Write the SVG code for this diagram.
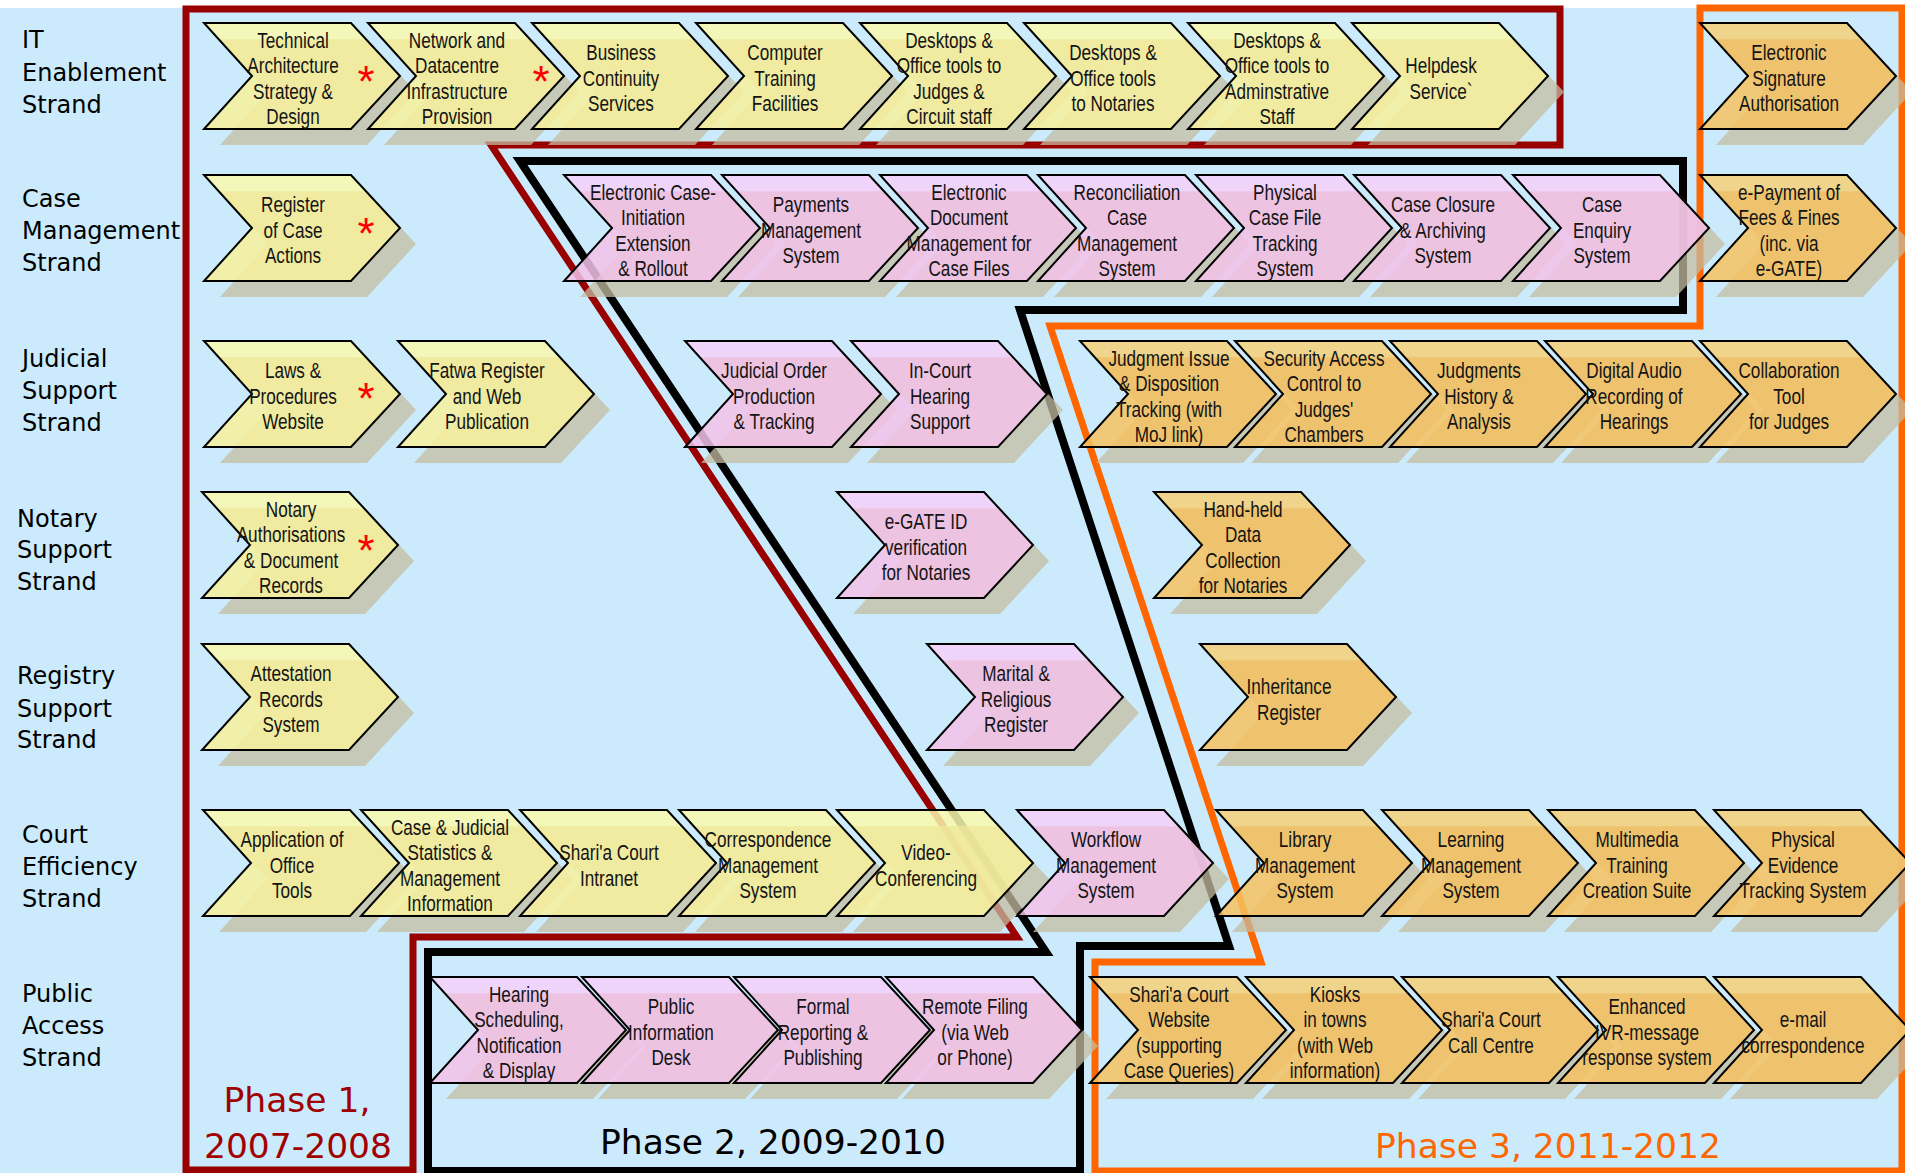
<svg xmlns="http://www.w3.org/2000/svg" xmlns:xlink="http://www.w3.org/1999/xlink" width="1905" height="1173" viewBox="0 0 1905 1173">
  <style>
    .strand{font-family:"DejaVu Sans",Verdana,sans-serif;font-size:24px;fill:#000}
    .phase{font-family:"DejaVu Sans",Verdana,sans-serif;font-size:34.5px}
    .sh{fill:#c4bca1;fill-opacity:.75}
    .chev{stroke:#000;stroke-width:2;stroke-linejoin:miter;fill-opacity:.85}
    .y{fill:url(#gYellow)}
    .p{fill:url(#gPink)}
    .o{fill:url(#gOrange)}
    .t{font-family:"Liberation Sans",Arial,sans-serif;font-size:22px;fill:#141414;text-anchor:middle}
    .ast{font-family:"Liberation Sans",Arial,sans-serif;font-size:44px;fill:#ff0000;text-anchor:middle}
    .bound{fill:none;stroke-linejoin:miter}
  </style>
  <defs>
    <path id="chev" d="M0 0 H147 L196 53 L147 106 H0 L48 53 Z"/>
    <linearGradient id="gYellow" x1="0" y1="0" x2="0" y2="1">
      <stop offset="0" stop-color="#faf9ad"/><stop offset="0.15" stop-color="#faf9ad"/>
      <stop offset="0.16" stop-color="#f7f19c"/><stop offset="1" stop-color="#f7f19c"/>
    </linearGradient>
    <linearGradient id="gPink" x1="0" y1="0" x2="0" y2="1">
      <stop offset="0" stop-color="#f6d0fa"/><stop offset="0.15" stop-color="#f6d0fa"/>
      <stop offset="0.16" stop-color="#f4c2e9"/><stop offset="1" stop-color="#f4c2e9"/>
    </linearGradient>
    <linearGradient id="gOrange" x1="0" y1="0" x2="0" y2="1">
      <stop offset="0" stop-color="#f6d078"/><stop offset="0.15" stop-color="#f6d078"/>
      <stop offset="0.16" stop-color="#f6c261"/><stop offset="1" stop-color="#f6c261"/>
    </linearGradient>
  </defs>

  <!-- background -->
  <rect x="0" y="0" width="1905" height="1173" fill="#ffffff"/>
  <rect x="0" y="8" width="1905" height="1165" fill="#cbebfc"/>

  <!-- phase boundaries -->
  <g id="phase-boundaries">
    <path class="bound" stroke="#990000" stroke-width="7" d="M186 1170 V9 H1560 V145 H491 L1017 937 H413 V1170 Z"/>
    <path class="bound" stroke="#000000" stroke-width="8" d="M428 1171 V952 H1046 L520 161 H1683 V310 H1020 L1229 946 H1080 V1171 Z"/>
    <path class="bound" stroke="#ff6600" stroke-width="7" d="M1095 1171 V962 H1261 L1050 326 H1700 V8 H1902 V1171 Z"/>
  </g>

  <!-- drop shadows (offset 16,16) -->
  <g id="shadows">
    <use href="#chev" class="sh" x="220" y="39"/><use href="#chev" class="sh" x="384" y="39"/><use href="#chev" class="sh" x="548" y="39"/><use href="#chev" class="sh" x="712" y="39"/><use href="#chev" class="sh" x="876" y="39"/><use href="#chev" class="sh" x="1040" y="39"/><use href="#chev" class="sh" x="1204" y="39"/><use href="#chev" class="sh" x="1368" y="39"/><use href="#chev" class="sh" x="1716" y="39"/>
    <use href="#chev" class="sh" x="220" y="191"/><use href="#chev" class="sh" x="580" y="191"/><use href="#chev" class="sh" x="738" y="191"/><use href="#chev" class="sh" x="896" y="191"/><use href="#chev" class="sh" x="1054" y="191"/><use href="#chev" class="sh" x="1212" y="191"/><use href="#chev" class="sh" x="1370" y="191"/><use href="#chev" class="sh" x="1529" y="191"/><use href="#chev" class="sh" x="1716" y="191"/>
    <use href="#chev" class="sh" x="220" y="357"/><use href="#chev" class="sh" x="414" y="357"/><use href="#chev" class="sh" x="701" y="357"/><use href="#chev" class="sh" x="867" y="357"/><use href="#chev" class="sh" x="1096" y="357"/><use href="#chev" class="sh" x="1251" y="357"/><use href="#chev" class="sh" x="1406" y="357"/><use href="#chev" class="sh" x="1561" y="357"/><use href="#chev" class="sh" x="1716" y="357"/>
    <use href="#chev" class="sh" x="218" y="508"/><use href="#chev" class="sh" x="853" y="508"/><use href="#chev" class="sh" x="1170" y="508"/>
    <use href="#chev" class="sh" x="218" y="660"/><use href="#chev" class="sh" x="943" y="660"/><use href="#chev" class="sh" x="1216" y="660"/>
    <use href="#chev" class="sh" x="219" y="826"/><use href="#chev" class="sh" x="377" y="826"/><use href="#chev" class="sh" x="536" y="826"/><use href="#chev" class="sh" x="695" y="826"/><use href="#chev" class="sh" x="853" y="826"/><use href="#chev" class="sh" x="1033" y="826"/><use href="#chev" class="sh" x="1232" y="826"/><use href="#chev" class="sh" x="1398" y="826"/><use href="#chev" class="sh" x="1564" y="826"/><use href="#chev" class="sh" x="1730" y="826"/>
    <use href="#chev" class="sh" x="446" y="993"/><use href="#chev" class="sh" x="598" y="993"/><use href="#chev" class="sh" x="750" y="993"/><use href="#chev" class="sh" x="902" y="993"/><use href="#chev" class="sh" x="1106" y="993"/><use href="#chev" class="sh" x="1262" y="993"/><use href="#chev" class="sh" x="1418" y="993"/><use href="#chev" class="sh" x="1574" y="993"/><use href="#chev" class="sh" x="1730" y="993"/>
  </g>

  <!-- IT Enablement strand -->
  <g id="it-technical-architecture" transform="translate(204 23)"><use href="#chev" class="chev y"/>
    <text class="t" transform="translate(89 0) scale(0.78 1)"><tspan x="0" y="24.75">Technical</tspan><tspan x="0" y="50.25">Architecture</tspan><tspan x="0" y="75.75">Strategy &amp;</tspan><tspan x="0" y="101.25">Design</tspan></text>
    <text class="ast" x="162" y="74">*</text></g>
  <g id="it-network-datacentre" transform="translate(368 23)"><use href="#chev" class="chev y"/>
    <text class="t" transform="translate(89 0) scale(0.78 1)"><tspan x="0" y="24.75">Network and</tspan><tspan x="0" y="50.25">Datacentre</tspan><tspan x="0" y="75.75">Infrastructure</tspan><tspan x="0" y="101.25">Provision</tspan></text>
    <text class="ast" x="173" y="74">*</text></g>
  <g id="it-business-continuity" transform="translate(532 23)"><use href="#chev" class="chev y"/>
    <text class="t" transform="translate(89 0) scale(0.78 1)"><tspan x="0" y="37.5">Business</tspan><tspan x="0" y="63">Continuity</tspan><tspan x="0" y="88.5">Services</tspan></text></g>
  <g id="it-computer-training" transform="translate(696 23)"><use href="#chev" class="chev y"/>
    <text class="t" transform="translate(89 0) scale(0.78 1)"><tspan x="0" y="37.5">Computer</tspan><tspan x="0" y="63">Training</tspan><tspan x="0" y="88.5">Facilities</tspan></text></g>
  <g id="it-desktops-judges" transform="translate(860 23)"><use href="#chev" class="chev y"/>
    <text class="t" transform="translate(89 0) scale(0.78 1)"><tspan x="0" y="24.75">Desktops &amp;</tspan><tspan x="0" y="50.25">Office tools to</tspan><tspan x="0" y="75.75">Judges &amp;</tspan><tspan x="0" y="101.25">Circuit staff</tspan></text></g>
  <g id="it-desktops-notaries" transform="translate(1024 23)"><use href="#chev" class="chev y"/>
    <text class="t" transform="translate(89 0) scale(0.78 1)"><tspan x="0" y="37.5">Desktops &amp;</tspan><tspan x="0" y="63">Office tools</tspan><tspan x="0" y="88.5">to Notaries</tspan></text></g>
  <g id="it-desktops-admin" transform="translate(1188 23)"><use href="#chev" class="chev y"/>
    <text class="t" transform="translate(89 0) scale(0.78 1)"><tspan x="0" y="24.75">Desktops &amp;</tspan><tspan x="0" y="50.25">Office tools to</tspan><tspan x="0" y="75.75">Adminstrative</tspan><tspan x="0" y="101.25">Staff</tspan></text></g>
  <g id="it-helpdesk" transform="translate(1352 23)"><use href="#chev" class="chev y"/>
    <text class="t" transform="translate(89 0) scale(0.78 1)"><tspan x="0" y="50.25">Helpdesk</tspan><tspan x="0" y="75.75">Service`</tspan></text></g>
  <g id="it-electronic-signature" transform="translate(1700 23)"><use href="#chev" class="chev o"/>
    <text class="t" transform="translate(89 0) scale(0.78 1)"><tspan x="0" y="37.5">Electronic</tspan><tspan x="0" y="63">Signature</tspan><tspan x="0" y="88.5">Authorisation</tspan></text></g>

  <!-- Case Management strand -->
  <g id="cm-register-case-actions" transform="translate(204 175)"><use href="#chev" class="chev y"/>
    <text class="t" transform="translate(89 0) scale(0.78 1)"><tspan x="0" y="37.5">Register</tspan><tspan x="0" y="63">of Case</tspan><tspan x="0" y="88.5">Actions</tspan></text>
    <text class="ast" x="162" y="74">*</text></g>
  <g id="cm-electronic-case-initiation" transform="translate(564 175)"><use href="#chev" class="chev p"/>
    <text class="t" transform="translate(89 0) scale(0.78 1)"><tspan x="0" y="24.75">Electronic Case-</tspan><tspan x="0" y="50.25">Initiation</tspan><tspan x="0" y="75.75">Extension</tspan><tspan x="0" y="101.25">&amp; Rollout</tspan></text></g>
  <g id="cm-payments" transform="translate(722 175)"><use href="#chev" class="chev p"/>
    <text class="t" transform="translate(89 0) scale(0.78 1)"><tspan x="0" y="37.5">Payments</tspan><tspan x="0" y="63">Management</tspan><tspan x="0" y="88.5">System</tspan></text></g>
  <g id="cm-electronic-document" transform="translate(880 175)"><use href="#chev" class="chev p"/>
    <text class="t" transform="translate(89 0) scale(0.78 1)"><tspan x="0" y="24.75">Electronic</tspan><tspan x="0" y="50.25">Document</tspan><tspan x="0" y="75.75">Management for</tspan><tspan x="0" y="101.25">Case Files</tspan></text></g>
  <g id="cm-reconciliation" transform="translate(1038 175)"><use href="#chev" class="chev p"/>
    <text class="t" transform="translate(89 0) scale(0.78 1)"><tspan x="0" y="24.75">Reconciliation</tspan><tspan x="0" y="50.25">Case</tspan><tspan x="0" y="75.75">Management</tspan><tspan x="0" y="101.25">System</tspan></text></g>
  <g id="cm-physical-case-file" transform="translate(1196 175)"><use href="#chev" class="chev p"/>
    <text class="t" transform="translate(89 0) scale(0.78 1)"><tspan x="0" y="24.75">Physical</tspan><tspan x="0" y="50.25">Case File</tspan><tspan x="0" y="75.75">Tracking</tspan><tspan x="0" y="101.25">System</tspan></text></g>
  <g id="cm-case-closure" transform="translate(1354 175)"><use href="#chev" class="chev p"/>
    <text class="t" transform="translate(89 0) scale(0.78 1)"><tspan x="0" y="37.5">Case Closure</tspan><tspan x="0" y="63">&amp; Archiving</tspan><tspan x="0" y="88.5">System</tspan></text></g>
  <g id="cm-case-enquiry" transform="translate(1513 175)"><use href="#chev" class="chev p"/>
    <text class="t" transform="translate(89 0) scale(0.78 1)"><tspan x="0" y="37.5">Case</tspan><tspan x="0" y="63">Enquiry</tspan><tspan x="0" y="88.5">System</tspan></text></g>
  <g id="cm-e-payment" transform="translate(1700 175)"><use href="#chev" class="chev o"/>
    <text class="t" transform="translate(89 0) scale(0.78 1)"><tspan x="0" y="24.75">e-Payment of</tspan><tspan x="0" y="50.25">Fees &amp; Fines</tspan><tspan x="0" y="75.75">(inc. via</tspan><tspan x="0" y="101.25">e-GATE)</tspan></text></g>

  <!-- Judicial Support strand -->
  <g id="js-laws-procedures" transform="translate(204 341)"><use href="#chev" class="chev y"/>
    <text class="t" transform="translate(89 0) scale(0.78 1)"><tspan x="0" y="37.5">Laws &amp;</tspan><tspan x="0" y="63">Procedures</tspan><tspan x="0" y="88.5">Website</tspan></text>
    <text class="ast" x="162" y="73">*</text></g>
  <g id="js-fatwa-register" transform="translate(398 341)"><use href="#chev" class="chev y"/>
    <text class="t" transform="translate(89 0) scale(0.78 1)"><tspan x="0" y="37.5">Fatwa Register</tspan><tspan x="0" y="63">and Web</tspan><tspan x="0" y="88.5">Publication</tspan></text></g>
  <g id="js-judicial-order" transform="translate(685 341)"><use href="#chev" class="chev p"/>
    <text class="t" transform="translate(89 0) scale(0.78 1)"><tspan x="0" y="37.5">Judicial Order</tspan><tspan x="0" y="63">Production</tspan><tspan x="0" y="88.5">&amp; Tracking</tspan></text></g>
  <g id="js-in-court-hearing" transform="translate(851 341)"><use href="#chev" class="chev p"/>
    <text class="t" transform="translate(89 0) scale(0.78 1)"><tspan x="0" y="37.5">In-Court</tspan><tspan x="0" y="63">Hearing</tspan><tspan x="0" y="88.5">Support</tspan></text></g>
  <g id="js-judgment-issue" transform="translate(1080 341)"><use href="#chev" class="chev o"/>
    <text class="t" transform="translate(89 0) scale(0.78 1)"><tspan x="0" y="24.75">Judgment Issue</tspan><tspan x="0" y="50.25">&amp; Disposition</tspan><tspan x="0" y="75.75">Tracking (with</tspan><tspan x="0" y="101.25">MoJ link)</tspan></text></g>
  <g id="js-security-access" transform="translate(1235 341)"><use href="#chev" class="chev o"/>
    <text class="t" transform="translate(89 0) scale(0.78 1)"><tspan x="0" y="24.75">Security Access</tspan><tspan x="0" y="50.25">Control to</tspan><tspan x="0" y="75.75">Judges'</tspan><tspan x="0" y="101.25">Chambers</tspan></text></g>
  <g id="js-judgments-history" transform="translate(1390 341)"><use href="#chev" class="chev o"/>
    <text class="t" transform="translate(89 0) scale(0.78 1)"><tspan x="0" y="37.5">Judgments</tspan><tspan x="0" y="63">History &amp;</tspan><tspan x="0" y="88.5">Analysis</tspan></text></g>
  <g id="js-digital-audio" transform="translate(1545 341)"><use href="#chev" class="chev o"/>
    <text class="t" transform="translate(89 0) scale(0.78 1)"><tspan x="0" y="37.5">Digital Audio</tspan><tspan x="0" y="63">Recording of</tspan><tspan x="0" y="88.5">Hearings</tspan></text></g>
  <g id="js-collaboration-tool" transform="translate(1700 341)"><use href="#chev" class="chev o"/>
    <text class="t" transform="translate(89 0) scale(0.78 1)"><tspan x="0" y="37.5">Collaboration</tspan><tspan x="0" y="63">Tool</tspan><tspan x="0" y="88.5">for Judges</tspan></text></g>

  <!-- Notary Support strand -->
  <g id="ns-notary-authorisations" transform="translate(202 492)"><use href="#chev" class="chev y"/>
    <text class="t" transform="translate(89 0) scale(0.78 1)"><tspan x="0" y="24.75">Notary</tspan><tspan x="0" y="50.25">Authorisations</tspan><tspan x="0" y="75.75">&amp; Document</tspan><tspan x="0" y="101.25">Records</tspan></text>
    <text class="ast" x="164" y="74">*</text></g>
  <g id="ns-egate-id" transform="translate(837 492)"><use href="#chev" class="chev p"/>
    <text class="t" transform="translate(89 0) scale(0.78 1)"><tspan x="0" y="37.5">e-GATE ID</tspan><tspan x="0" y="63">verification</tspan><tspan x="0" y="88.5">for Notaries</tspan></text></g>
  <g id="ns-hand-held" transform="translate(1154 492)"><use href="#chev" class="chev o"/>
    <text class="t" transform="translate(89 0) scale(0.78 1)"><tspan x="0" y="24.75">Hand-held</tspan><tspan x="0" y="50.25">Data</tspan><tspan x="0" y="75.75">Collection</tspan><tspan x="0" y="101.25">for Notaries</tspan></text></g>

  <!-- Registry Support strand -->
  <g id="rs-attestation" transform="translate(202 644)"><use href="#chev" class="chev y"/>
    <text class="t" transform="translate(89 0) scale(0.78 1)"><tspan x="0" y="37.5">Attestation</tspan><tspan x="0" y="63">Records</tspan><tspan x="0" y="88.5">System</tspan></text></g>
  <g id="rs-marital-religious" transform="translate(927 644)"><use href="#chev" class="chev p"/>
    <text class="t" transform="translate(89 0) scale(0.78 1)"><tspan x="0" y="37.5">Marital &amp;</tspan><tspan x="0" y="63">Religious</tspan><tspan x="0" y="88.5">Register</tspan></text></g>
  <g id="rs-inheritance" transform="translate(1200 644)"><use href="#chev" class="chev o"/>
    <text class="t" transform="translate(89 0) scale(0.78 1)"><tspan x="0" y="50.25">Inheritance</tspan><tspan x="0" y="75.75">Register</tspan></text></g>

  <!-- Court Efficiency strand -->
  <g id="ce-office-tools" transform="translate(203 810)"><use href="#chev" class="chev y"/>
    <text class="t" transform="translate(89 0) scale(0.78 1)"><tspan x="0" y="37.5">Application of</tspan><tspan x="0" y="63">Office</tspan><tspan x="0" y="88.5">Tools</tspan></text></g>
  <g id="ce-statistics" transform="translate(361 810)"><use href="#chev" class="chev y"/>
    <text class="t" transform="translate(89 0) scale(0.78 1)"><tspan x="0" y="24.75">Case &amp; Judicial</tspan><tspan x="0" y="50.25">Statistics &amp;</tspan><tspan x="0" y="75.75">Management</tspan><tspan x="0" y="101.25">Information</tspan></text></g>
  <g id="ce-intranet" transform="translate(520 810)"><use href="#chev" class="chev y"/>
    <text class="t" transform="translate(89 0) scale(0.78 1)"><tspan x="0" y="50.25">Shari'a Court</tspan><tspan x="0" y="75.75">Intranet</tspan></text></g>
  <g id="ce-correspondence" transform="translate(679 810)"><use href="#chev" class="chev y"/>
    <text class="t" transform="translate(89 0) scale(0.78 1)"><tspan x="0" y="37.5">Correspondence</tspan><tspan x="0" y="63">Management</tspan><tspan x="0" y="88.5">System</tspan></text></g>
  <g id="ce-video-conferencing" transform="translate(837 810)"><use href="#chev" class="chev y"/>
    <text class="t" transform="translate(89 0) scale(0.78 1)"><tspan x="0" y="50.25">Video-</tspan><tspan x="0" y="75.75">Conferencing</tspan></text></g>
  <g id="ce-workflow" transform="translate(1017 810)"><use href="#chev" class="chev p"/>
    <text class="t" transform="translate(89 0) scale(0.78 1)"><tspan x="0" y="37.5">Workflow</tspan><tspan x="0" y="63">Management</tspan><tspan x="0" y="88.5">System</tspan></text></g>
  <g id="ce-library" transform="translate(1216 810)"><use href="#chev" class="chev o"/>
    <text class="t" transform="translate(89 0) scale(0.78 1)"><tspan x="0" y="37.5">Library</tspan><tspan x="0" y="63">Management</tspan><tspan x="0" y="88.5">System</tspan></text></g>
  <g id="ce-learning" transform="translate(1382 810)"><use href="#chev" class="chev o"/>
    <text class="t" transform="translate(89 0) scale(0.78 1)"><tspan x="0" y="37.5">Learning</tspan><tspan x="0" y="63">Management</tspan><tspan x="0" y="88.5">System</tspan></text></g>
  <g id="ce-multimedia" transform="translate(1548 810)"><use href="#chev" class="chev o"/>
    <text class="t" transform="translate(89 0) scale(0.78 1)"><tspan x="0" y="37.5">Multimedia</tspan><tspan x="0" y="63">Training</tspan><tspan x="0" y="88.5">Creation Suite</tspan></text></g>
  <g id="ce-physical-evidence" transform="translate(1714 810)"><use href="#chev" class="chev o"/>
    <text class="t" transform="translate(89 0) scale(0.78 1)"><tspan x="0" y="37.5">Physical</tspan><tspan x="0" y="63">Evidence</tspan><tspan x="0" y="88.5">Tracking System</tspan></text></g>

  <!-- Public Access strand -->
  <g id="pa-hearing-scheduling" transform="translate(430 977)"><use href="#chev" class="chev p"/>
    <text class="t" transform="translate(89 0) scale(0.78 1)"><tspan x="0" y="24.75">Hearing</tspan><tspan x="0" y="50.25">Scheduling,</tspan><tspan x="0" y="75.75">Notification</tspan><tspan x="0" y="101.25">&amp; Display</tspan></text></g>
  <g id="pa-information-desk" transform="translate(582 977)"><use href="#chev" class="chev p"/>
    <text class="t" transform="translate(89 0) scale(0.78 1)"><tspan x="0" y="37.5">Public</tspan><tspan x="0" y="63">Information</tspan><tspan x="0" y="88.5">Desk</tspan></text></g>
  <g id="pa-formal-reporting" transform="translate(734 977)"><use href="#chev" class="chev p"/>
    <text class="t" transform="translate(89 0) scale(0.78 1)"><tspan x="0" y="37.5">Formal</tspan><tspan x="0" y="63">Reporting &amp;</tspan><tspan x="0" y="88.5">Publishing</tspan></text></g>
  <g id="pa-remote-filing" transform="translate(886 977)"><use href="#chev" class="chev p"/>
    <text class="t" transform="translate(89 0) scale(0.78 1)"><tspan x="0" y="37.5">Remote Filing</tspan><tspan x="0" y="63">(via Web</tspan><tspan x="0" y="88.5">or Phone)</tspan></text></g>
  <g id="pa-court-website" transform="translate(1090 977)"><use href="#chev" class="chev o"/>
    <text class="t" transform="translate(89 0) scale(0.78 1)"><tspan x="0" y="24.75">Shari'a Court</tspan><tspan x="0" y="50.25">Website</tspan><tspan x="0" y="75.75">(supporting</tspan><tspan x="0" y="101.25">Case Queries)</tspan></text></g>
  <g id="pa-kiosks" transform="translate(1246 977)"><use href="#chev" class="chev o"/>
    <text class="t" transform="translate(89 0) scale(0.78 1)"><tspan x="0" y="24.75">Kiosks</tspan><tspan x="0" y="50.25">in towns</tspan><tspan x="0" y="75.75">(with Web</tspan><tspan x="0" y="101.25">information)</tspan></text></g>
  <g id="pa-call-centre" transform="translate(1402 977)"><use href="#chev" class="chev o"/>
    <text class="t" transform="translate(89 0) scale(0.78 1)"><tspan x="0" y="50.25">Shari'a Court</tspan><tspan x="0" y="75.75">Call Centre</tspan></text></g>
  <g id="pa-ivr" transform="translate(1558 977)"><use href="#chev" class="chev o"/>
    <text class="t" transform="translate(89 0) scale(0.78 1)"><tspan x="0" y="37.5">Enhanced</tspan><tspan x="0" y="63">IVR-message</tspan><tspan x="0" y="88.5">response system</tspan></text></g>
  <g id="pa-email" transform="translate(1714 977)"><use href="#chev" class="chev o"/>
    <text class="t" transform="translate(89 0) scale(0.78 1)"><tspan x="0" y="50.25">e-mail</tspan><tspan x="0" y="75.75">correspondence</tspan></text></g>

  <!-- strand labels -->
  <g id="strand-labels" class="strand">
    <text x="22" y="48">IT<tspan x="22" y="81">Enablement</tspan><tspan x="22" y="113">Strand</tspan></text>
    <text x="22" y="207">Case<tspan x="22" y="239">Management</tspan><tspan x="22" y="271">Strand</tspan></text>
    <text x="22" y="367">Judicial<tspan x="22" y="399">Support</tspan><tspan x="22" y="431">Strand</tspan></text>
    <text x="17" y="527">Notary<tspan x="17" y="558">Support</tspan><tspan x="17" y="590">Strand</tspan></text>
    <text x="17" y="684">Registry<tspan x="17" y="717">Support</tspan><tspan x="17" y="748">Strand</tspan></text>
    <text x="22" y="843">Court<tspan x="22" y="875">Efficiency</tspan><tspan x="22" y="907">Strand</tspan></text>
    <text x="22" y="1002">Public<tspan x="22" y="1034">Access</tspan><tspan x="22" y="1066">Strand</tspan></text>
  </g>

  <!-- phase labels -->
  <g id="phase-labels" class="phase">
    <text fill="#a00000" text-anchor="middle"><tspan x="297" y="1112">Phase 1,</tspan><tspan x="298" y="1158">2007-2008</tspan></text>
    <text fill="#000000" x="600" y="1154">Phase 2, 2009-2010</text>
    <text fill="#ff6600" x="1375" y="1158">Phase 3, 2011-2012</text>
  </g>
</svg>
